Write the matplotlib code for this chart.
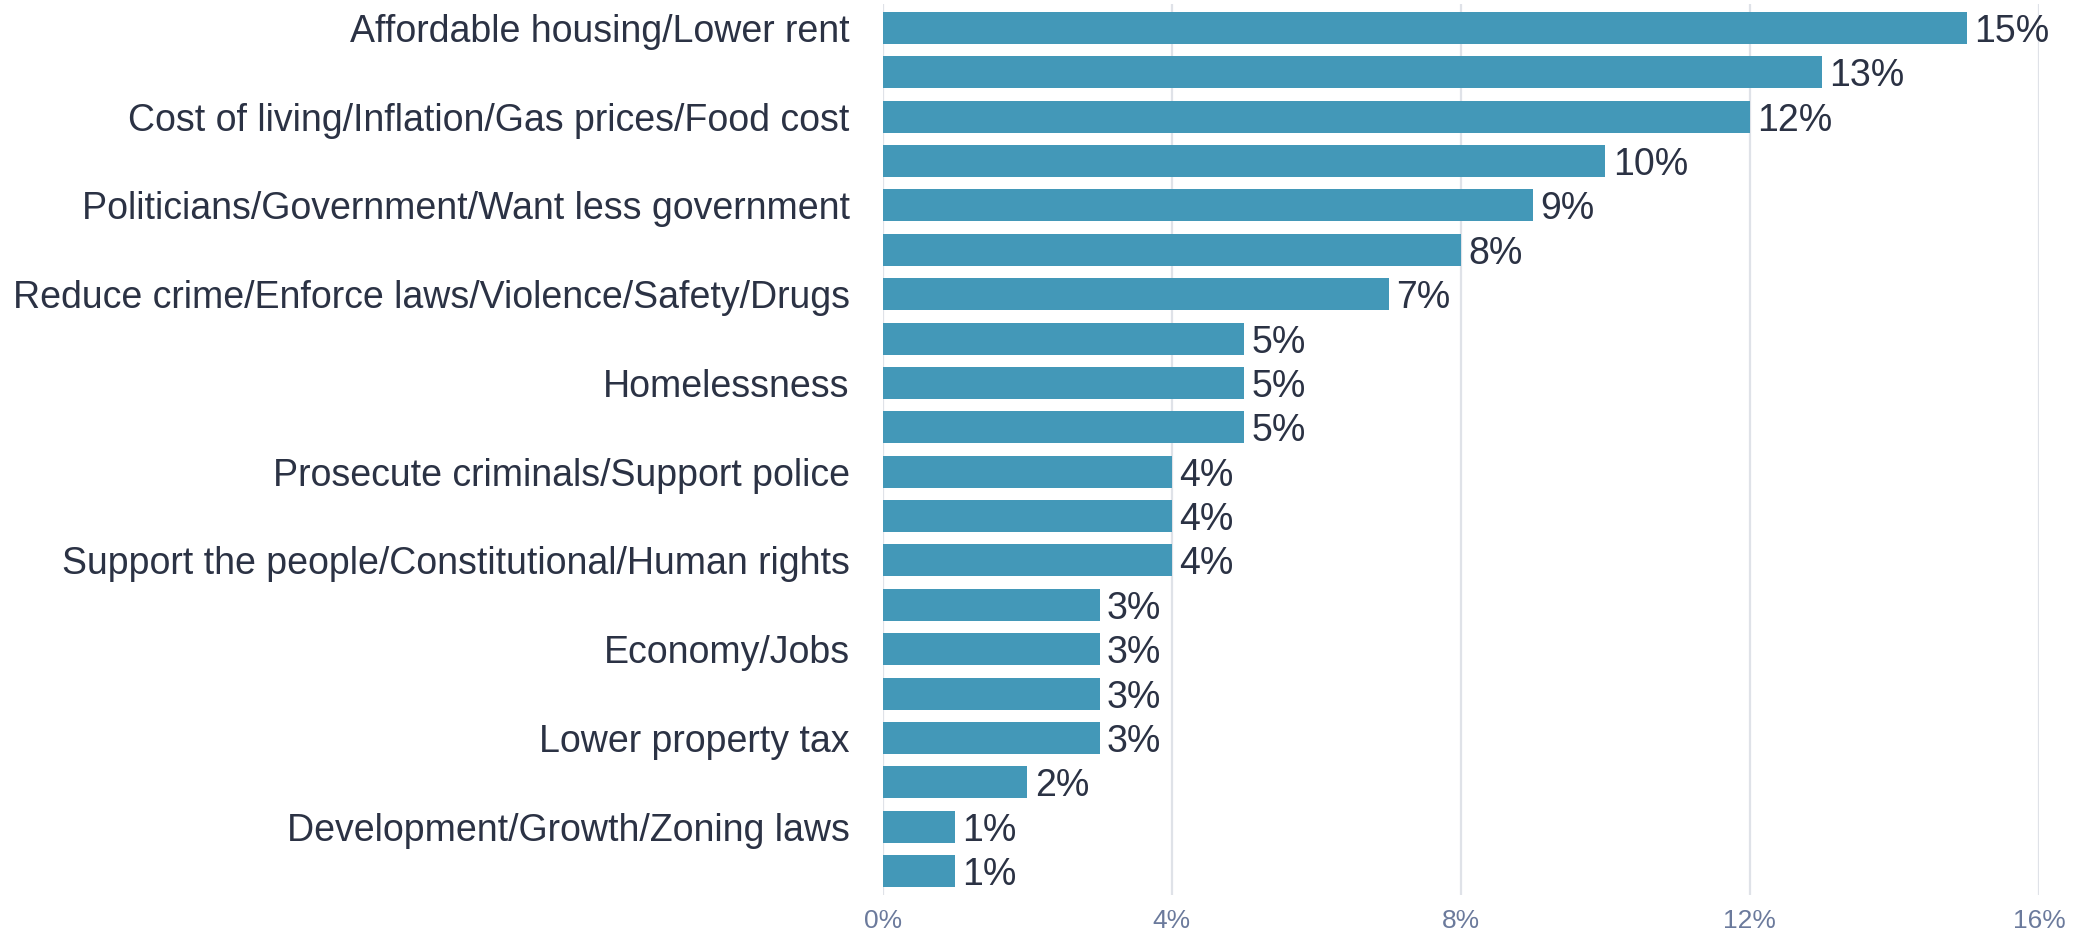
import matplotlib
matplotlib.use("Agg")
import matplotlib.pyplot as plt
from matplotlib.ticker import FuncFormatter

categories = [
    "Affordable housing/Lower rent", "",
    "Cost of living/Inflation/Gas prices/Food cost", "",
    "Politicians/Government/Want less government", "",
    "Reduce crime/Enforce laws/Violence/Safety/Drugs", "",
    "Homelessness", "",
    "Prosecute criminals/Support police", "",
    "Support the people/Constitutional/Human rights", "",
    "Economy/Jobs", "",
    "Lower property tax", "",
    "Development/Growth/Zoning laws", "",
]
values = [15, 13, 12, 10, 9, 8, 7, 5, 5, 5, 4, 4, 4, 3, 3, 3, 3, 2, 1, 1]
xticks = [0, 4, 8, 12, 16]

BAR = "#4398b8"
TEXT = "#2b3244"
TICK = "#6b7a9c"
GRID = "#dfe2e8"

plt.rcParams["font.family"] = ["Liberation Sans", "DejaVu Sans"]

fig = plt.figure(figsize=(20.75, 9.31), dpi=100)
ax = fig.add_axes([0.4255, 0.0387, 0.5571, 0.957])

ypos = list(range(len(values)))
ax.barh(ypos, values, height=0.72, color=BAR, zorder=3)
for y, v in zip(ypos, values):
    ax.text(v + 0.1, y, f"{v}%", va="center_baseline", ha="left", fontsize=27,
            color=TEXT, zorder=4)

ax.set_ylim(len(values) - 1 + 0.54, -0.54)
ax.set_xlim(0, 16)
ax.set_yticks(ypos)
ax.set_yticklabels(categories, fontsize=27, color=TEXT)
ax.set_xticks(xticks)
ax.xaxis.set_major_formatter(FuncFormatter(lambda x, p: f"{x:.0f}%"))
ax.tick_params(axis="x", length=0, pad=10, labelsize=19, labelcolor=TICK)
ax.tick_params(axis="y", length=0, pad=24)
ax.grid(axis="x", color=GRID, linewidth=1.6, zorder=0)
ax.grid(axis="y", visible=False)
for s in ax.spines.values():
    s.set_visible(False)

fig.savefig("out.png", dpi=100, facecolor="white")
